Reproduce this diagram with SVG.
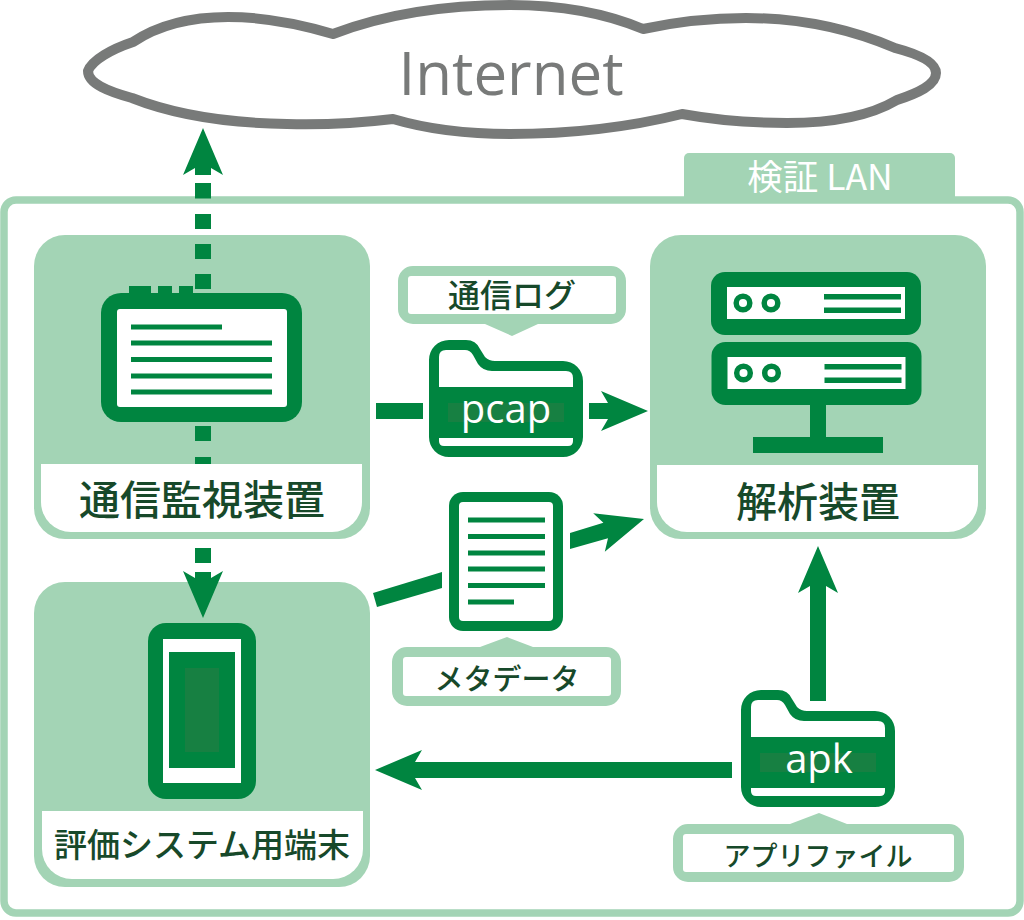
<svg xmlns="http://www.w3.org/2000/svg" width="1024" height="920" viewBox="0 0 1024 920">
<style>
.g{fill:#008540}.l{fill:#a3d4b5}.w{fill:#fff}.bg{fill:#178042}
.t{font-family:"Noto Sans CJK JP","Noto Sans",sans-serif;font-weight:500;fill:#17492a;text-anchor:middle}
.f{font-family:"Open Sans","Noto Sans",sans-serif;fill:#fff;font-size:40px;text-anchor:middle}
.c{fill:none;stroke:#008540;stroke-width:16}
.led{fill:#fff;stroke:#008540;stroke-width:5.5}
</style>
<defs>
<marker id="ah" markerUnits="userSpaceOnUse" markerWidth="50" markerHeight="42" refX="7" refY="21" orient="auto"><path class="g" d="M0 1L7 13V29L0 41L47 21Z"/></marker>
<g id="folder"><path class="g" d="M429 360a20 20 0 0 1 20-20h17q10 0 14 9l5 8q4 4 10 4H563a20 20 0 0 1 20 20V437a20 20 0 0 1-20 20H449a20 20 0 0 1-20-20Z"/><path class="w" d="M439 387V357q0-7 7-7h19q5 0 8 5l5 9q5 7 14 7H566q7 0 7 7V387Z"/><path class="w" d="M439 438H573V441q0 5-5 5H444q-5 0-5-5Z"/></g>
<g id="srv"><rect class="g" x="711" y="272" width="210" height="63" rx="14"/><rect class="w" x="727" y="287" width="178" height="32"/><circle class="led" cx="743" cy="303" r="6.8"/><circle class="led" cx="771" cy="303" r="6.8"/><rect class="g" x="824" y="294" width="77" height="5.5"/><rect class="g" x="824" y="307.500" width="77" height="5.500"/></g>
</defs>
<g id="lan"><rect x="4" y="200" width="1016" height="713" rx="12" fill="#fff" stroke="#a3d4b5" stroke-width="7.500"/><path class="l" d="M684 200V158a5 5 0 0 1 5-5H950a5 5 0 0 1 5 5V200Z"/><text x="820" y="190" font-size="35.500" style="font-family:'Noto Sans CJK JP','Open Sans',sans-serif;text-anchor:middle;fill:#fff">検証 LAN</text></g>
<g id="internet"><path d="M88 71C92 60 112 49 133 42C160 24 195 17 228 17C265 17 300 24 333 34C385 14 445 5 510 5C560 5 605 13 643 29C680 21 715 18 746 18C805 18 855 31 895 48C918 54 936 62 936 73C936 85 918 93 897 100C870 116 830 123 787 123C750 123 715 120 682 114C630 127 570 134 510 134C470 134 430 130 393 119C360 123 325 125 287 124C225 123 175 115 132 98C110 92 88 84 88 71Z" fill="#fff" stroke="#787a79" stroke-width="10" stroke-linejoin="round"/><text x="511" y="95" font-size="60" text-anchor="middle" fill="#787a79" style="font-family:'Open Sans','Noto Sans',sans-serif">Internet</text></g>
<g id="monitor"><rect class="l" x="34" y="235" width="336" height="304" rx="31"/><path class="w" d="M41 464H362V502a30 30 0 0 1-30 30H71a30 30 0 0 1-30-30Z"/><path class="g" d="M129 286H151V293H158V286H172V293H179V286H193V293H129Z"/><rect class="g" x="101" y="293" width="201" height="129" rx="20"/><rect class="w" x="117" y="309" width="170" height="98" rx="3"/><path class="g" d="M131 324.500H222V329.500H131ZM131 340.500H272V345.500H131ZM131 357H272V362H131ZM131 373.500H272V378.500H131ZM131 389.500H272V394.500H131Z"/><text class="t" x="202" y="515" font-size="41">通信監視装置</text></g>
<g id="analyzer"><rect class="l" x="650" y="235" width="336" height="304" rx="31"/><path class="w" d="M657 465H978V502a30 30 0 0 1-30 30H687a30 30 0 0 1-30-30Z"/><use href="#srv"/><use href="#srv" y="70" x="0.500"/><path class="g" d="M810 405H826V437H883V453H753V437H810Z"/><text class="t" x="818" y="517" font-size="41">解析装置</text></g>
<g id="terminal"><rect class="l" x="34" y="582" width="336" height="305" rx="31"/><path class="w" d="M42 811H363V849a30 30 0 0 1-30 30H72a30 30 0 0 1-30-30Z"/><rect class="g" x="148" y="623" width="108" height="176" rx="18"/><rect class="w" x="163" y="639" width="78" height="144"/><rect class="g" x="169" y="652" width="66" height="116"/><rect class="bg" x="185" y="668" width="34" height="84"/><text class="t" x="202" y="857" font-size="33">評価システム用端末</text></g>
<g id="pcap"><use href="#folder"/><rect class="bg" x="448" y="403" width="116" height="19"/><text class="f" x="506" y="423">pcap</text></g>
<g id="pcap-label"><path class="l" d="M413 266H611a15 15 0 0 1 15 15V309a15 15 0 0 1-15 15H538L512 336L485 324H413a15 15 0 0 1-15-15V281a15 15 0 0 1 15-15Z"/><rect class="w" x="408" y="276" width="208" height="38" rx="3"/><text class="t" x="512" y="307" font-size="32">通信ログ</text></g>
<g id="metadata"><rect class="g" x="449" y="492" width="114" height="139" rx="14"/><rect class="w" x="459" y="502" width="94" height="119" rx="4"/><path class="g" d="M468 517.500H545V522.500H468ZM468 534H545V539H468ZM468 550.500H545V555.500H468ZM468 566.500H545V571.500H468ZM468 583H545V588H468ZM468 599.500H514V604.500H468Z"/></g>
<g id="metadata-label"><path class="l" d="M407 647H480L507 637L533 647H606a15 15 0 0 1 15 15V691a15 15 0 0 1-15 15H407a15 15 0 0 1-15-15V662a15 15 0 0 1 15-15Z"/><rect class="w" x="403" y="657" width="208" height="39" rx="3"/><text class="t" x="507" y="690" font-size="29">メタデータ</text></g>
<g id="apk"><use href="#folder" x="312" y="350"/><rect class="bg" x="760" y="753" width="116" height="19"/><text class="f" x="819" y="773">apk</text></g>
<g id="apk-label"><path class="l" d="M688 824H790L819 813L847 824H949a15 15 0 0 1 15 15V867a15 15 0 0 1-15 15H688a15 15 0 0 1-15-15V839a15 15 0 0 1 15-15Z"/><rect class="w" x="683" y="834" width="271" height="38" rx="3"/><text class="t" x="818" y="866" font-size="27">アプリファイル</text></g>
<g id="connectors">
<path class="c" marker-end="url(#ah)" d="M203 289V274M203 259V244M203 229V214M203 198.500V183M203 175V168"/>
<path class="c" marker-end="url(#ah)" d="M203 426V441M203 457V464M203 548V563M203 572V578"/>
<path class="c" d="M376 411H423"/>
<path class="c" marker-end="url(#ah)" d="M589 411H608"/>
<polygon class="g" points="373,593 442,572 442,588 377,607"/>
<polygon class="g" points="570,533 603.400,522.800 593.200,513.300 644,519 604.800,551.700 608,538.200 570,549"/>
<path class="c" marker-end="url(#ah)" d="M818 701V586"/>
<path class="c" marker-end="url(#ah)" d="M732 770H415"/>
</g>
</svg>
